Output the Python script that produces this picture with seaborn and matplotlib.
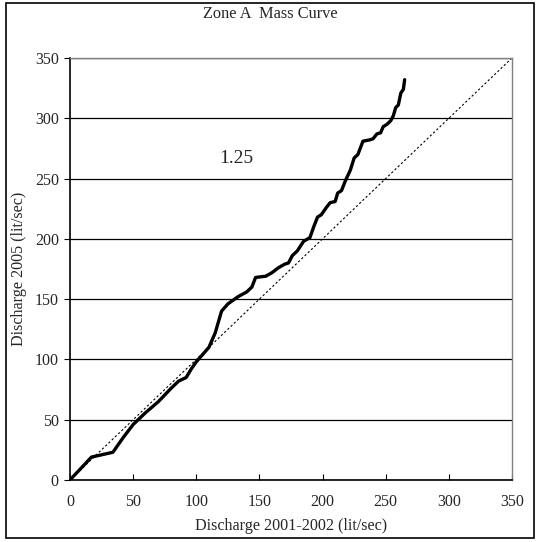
import matplotlib
matplotlib.use("Agg")
import matplotlib.pyplot as plt
import seaborn as sns
import pandas as pd
from matplotlib.patches import Rectangle

sns.set_theme(style="white")
plt.rcParams['font.family'] = ['Liberation Serif', 'DejaVu Serif']

# Mass curve data (cumulative discharge)
x_2001_2002 = [0, 17, 34, 42, 50, 60, 70, 80, 86, 92, 96, 100, 105, 110, 115, 120,
               125, 133, 140, 144, 147, 155, 160, 165, 170, 173, 176, 180, 185, 190,
               193, 196, 199, 203, 206, 210, 212, 215, 218, 222, 225, 228, 232, 237,
               240, 243, 246, 248, 251, 254, 256, 258, 260, 262, 264, 265]
y_2005 = [0, 19, 23, 35, 46, 56, 65, 76, 82, 85, 92, 98, 104, 110, 122, 140,
          146, 152, 156, 160, 168, 169, 172, 176, 179, 180, 186, 190, 198, 201,
          210, 218, 220, 226, 230, 231, 238, 240, 248, 257, 267, 270, 281, 282,
          283, 287, 288, 293, 295, 298, 302, 309, 311, 321, 324, 332]
ref_line = [0, 350]
ratio_label = "1.25"

fig = plt.figure(figsize=(5.4, 5.42), dpi=100)
ax = fig.add_axes([0.1296, 0.1144, 0.8185, 0.7786])

df = pd.DataFrame({"x": x_2001_2002, "y": y_2005})
sns.lineplot(data=df, x="x", y="y", sort=False, color="black", linewidth=2.4, ax=ax, zorder=3)
sns.lineplot(x=ref_line, y=ref_line, color="black", linewidth=0.8, linestyle=(0, (2, 2)), ax=ax, zorder=2)

ax.set_xlim(0, 350)
ax.set_ylim(0, 350)
ax.set_xticks(range(0, 351, 50))
ax.set_yticks(range(0, 351, 50))
ax.yaxis.grid(True, color="black", linewidth=0.9)
ax.xaxis.grid(False)
ax.set_axisbelow(True)

ax.tick_params(axis="x", direction="in", length=4, width=0.8, color="black",
               labelsize=11.5, pad=10, bottom=True)
ax.tick_params(axis="y", direction="out", length=4, width=0.8, color="black",
               labelsize=11.5, pad=4, left=True)

for s in ["left", "bottom"]:
    ax.spines[s].set_color("black")
    ax.spines[s].set_linewidth(1.2)
for s in ["top", "right"]:
    ax.spines[s].set_color("#808080")
    ax.spines[s].set_linewidth(1.0)

ax.set_xlabel("Discharge 2001-2002 (lit/sec)", fontsize=11.6, labelpad=6)
ax.set_ylabel("Discharge 2005 (lit/sec)", fontsize=11.6, labelpad=6)
fig.text(0.5, 0.975, "Zone A  Mass Curve", ha="center", va="center", fontsize=11.8)

ax.text(132, 267, ratio_label, ha="center", va="center", fontsize=14)

fig.patches.append(Rectangle((0.011, 0.007), 0.978, 0.987, transform=fig.transFigure,
                             fill=False, edgecolor="black", linewidth=1.2))

fig.savefig("out.png", dpi=100)
